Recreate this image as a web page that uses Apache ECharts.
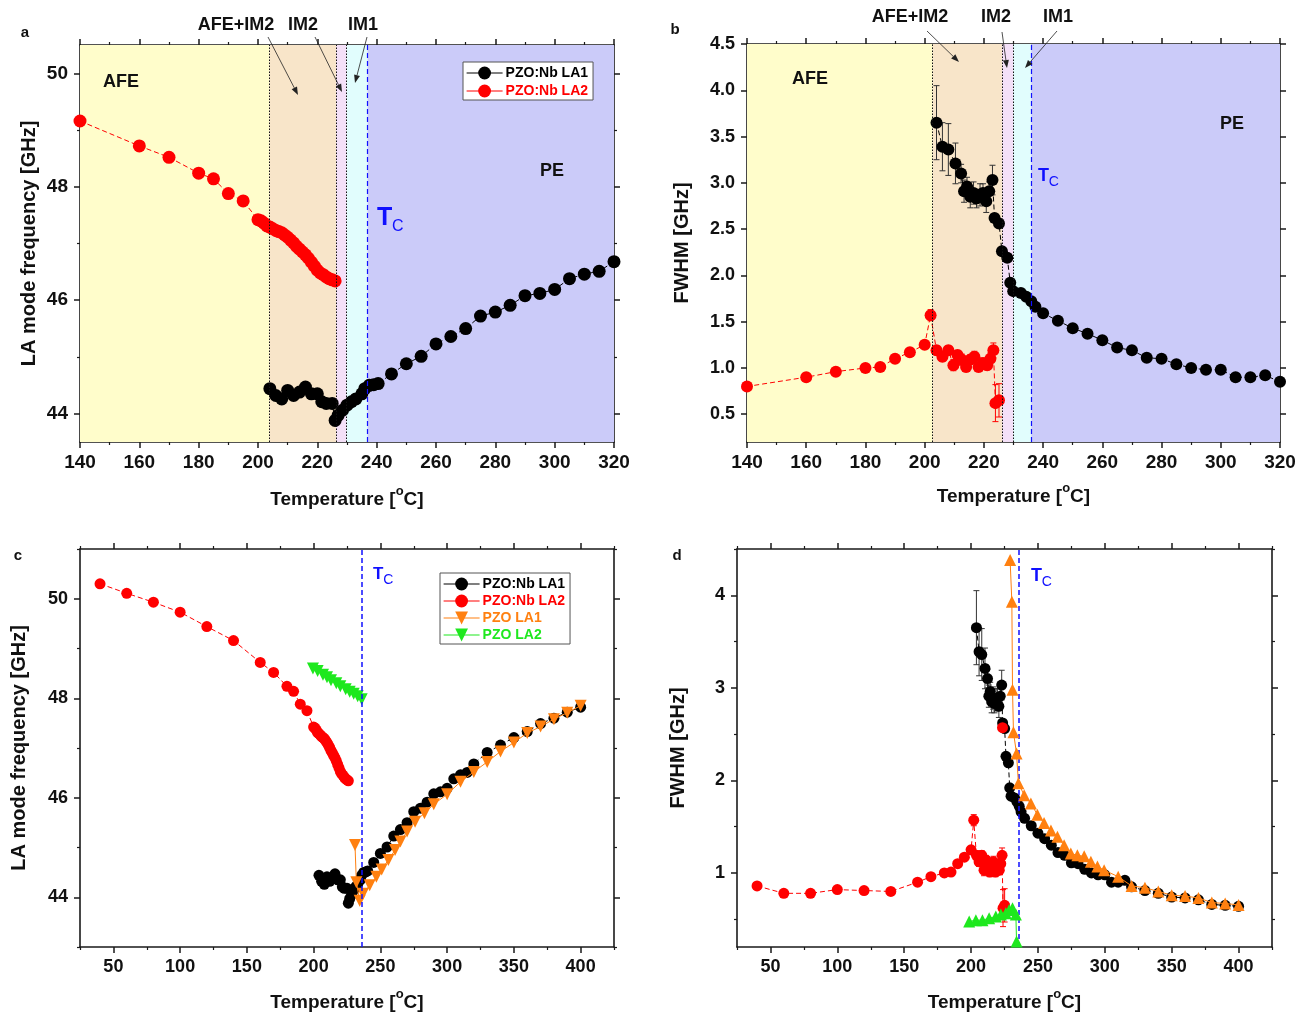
<!DOCTYPE html>
<html>
<head>
<meta charset="utf-8">
<script src="https://cdn.jsdelivr.net/npm/echarts@6.0.0/dist/echarts.min.js"></script>
<style>
  html, body { margin: 0; padding: 0; background: #fff; }
  #chart { width: 1311px; height: 1016px; }
</style>
</head>
<body>
<div id="chart"></div>
<script>
// LA mode frequency, PZO:Nb LA1 (black)
var la1FreqT = [204, 206, 208, 210, 212, 214, 216, 218, 220, 221.5, 223, 225, 226, 227, 228.5, 230, 231.5, 233, 235, 236, 237.5, 239, 240.5,
  245, 250, 255, 260, 265, 270, 275, 280, 285, 290, 295, 300, 305, 310, 315, 320, 330, 340, 350, 360, 370, 380, 390, 400]
var la1Freq = [44.44, 44.32, 44.26, 44.41, 44.32, 44.38, 44.47, 44.35, 44.35, 44.21, 44.18, 44.18, 43.88, 43.97, 44.06, 44.15, 44.21, 44.26, 44.35, 44.44, 44.50, 44.51, 44.53,
  44.70, 44.88, 45.01, 45.23, 45.36, 45.50, 45.72, 45.79, 45.91, 46.08, 46.12, 46.19, 46.38, 46.46, 46.51, 46.68, 46.91, 47.06, 47.21, 47.33, 47.49, 47.60, 47.72, 47.82]

// LA mode frequency, PZO:Nb LA2 (red)
var la2FreqT = [40, 60, 80, 100, 120, 140, 160, 170, 180, 185, 190, 195, 200, 201, 202, 203, 204, 205, 206, 207, 208, 209, 210,
  211, 212, 213, 214, 215, 216, 217, 218, 219, 220, 221, 222, 223, 224, 225, 226]
var la2Freq = [50.30, 50.11, 49.93, 49.73, 49.44, 49.16, 48.72, 48.52, 48.24, 48.14, 47.88, 47.75, 47.42, 47.40, 47.36, 47.31, 47.29, 47.26, 47.23, 47.21, 47.19, 47.15, 47.11,
  47.06, 47.01, 46.95, 46.90, 46.85, 46.80, 46.74, 46.67, 46.60, 46.53, 46.48, 46.45, 46.41, 46.38, 46.36, 46.34]

// LA mode frequency, PZO LA1 (orange) and PZO LA2 (green)
var pzoLa1FreqT = [231, 232, 234.5, 237, 242, 247, 251, 256, 261, 265, 270, 276, 283, 290, 300, 310, 320, 330, 340, 350, 360, 370, 380, 390, 400]
var pzoLa1Freq = [45.05, 44.30, 43.93, 44.07, 44.24, 44.41, 44.56, 44.75, 44.95, 45.12, 45.32, 45.52, 45.69, 45.87, 46.07, 46.32, 46.52, 46.72, 46.93, 47.11, 47.30, 47.43, 47.58, 47.71, 47.85]
var pzoLa2FreqT = [199.5, 203, 207, 210, 213, 217, 220, 224, 227, 230, 233, 236]
var pzoLa2Freq = [48.60, 48.55, 48.47, 48.42, 48.36, 48.30, 48.24, 48.18, 48.13, 48.09, 48.04, 47.98]

// FWHM, PZO:Nb LA1 (black) with error
var la1FwhmT = [204, 206, 208, 210.4, 212.3, 213.3, 214.3, 215.4, 216.5, 217.5, 218.7, 219.7, 220.8, 221.8, 222.9,
  223.6, 225.1, 226.1, 227.9, 228.9, 229.9, 232.5, 234.3, 236, 237.4, 240,
  245, 250, 255, 260, 265, 270, 275, 280, 285, 290, 295, 300, 305, 310, 315, 320, 330, 340, 350, 360, 370, 380, 390, 400]
var la1Fwhm = [3.65, 3.39, 3.36, 3.21, 3.10, 2.91, 2.96, 2.85, 2.89, 2.83, 2.87, 2.89, 2.80, 2.91, 3.03,
  2.62, 2.56, 2.26, 2.19, 1.92, 1.83, 1.81, 1.77, 1.72, 1.66, 1.59,
  1.51, 1.43, 1.37, 1.30, 1.22, 1.19, 1.11, 1.10, 1.04, 1.00, 0.98, 0.98, 0.90, 0.90, 0.92, 0.85, 0.81, 0.78, 0.74, 0.73, 0.71, 0.66, 0.65, 0.64]
var la1FwhmErr = [0.40, 0.26, 0.28, 0.22, 0.10, 0.12, 0.10, 0.12, 0.12, 0.10, 0.12, 0.10, 0.12, 0.10, 0.16,
  0, 0, 0, 0, 0, 0, 0, 0, 0, 0, 0,
  0, 0, 0, 0, 0, 0, 0, 0, 0, 0, 0, 0, 0, 0, 0, 0, 0, 0, 0, 0, 0, 0, 0, 0]

// FWHM, PZO:Nb LA2 (red) with error
var la2FwhmT = [40, 60, 80, 100, 120, 140, 160, 170, 180, 185, 190, 195, 200,
  202, 204, 206, 208, 209.7, 211.1, 212.5, 214, 215.4, 216.8, 218.2, 219.7, 221.1, 222.2, 223.2, 223.9, 225.1]
var la2Fwhm = [0.86, 0.78, 0.78, 0.82, 0.81, 0.80, 0.90, 0.96, 1.00, 1.01, 1.10, 1.17, 1.25,
  1.57, 1.19, 1.12, 1.19, 1.03, 1.14, 1.09, 1.01, 1.09, 1.12, 1.01, 1.05, 1.03, 1.10, 1.19, 0.62, 0.65]
var la2FwhmErr = [0, 0, 0, 0, 0, 0, 0, 0, 0, 0, 0, 0, 0,
  0.06, 0.05, 0.05, 0.05, 0.06, 0.05, 0.06, 0.05, 0.05, 0.06, 0.05, 0.06, 0.05, 0.06, 0.08, 0.20, 0.18]
// extra red point only seen in panel d
var la2FwhmExtraT = [223.5]
var la2FwhmExtra = [2.57]

// FWHM, PZO LA1 (orange) and PZO LA2 (green)
var pzoLa1FwhmT = [229.2, 230.5, 231, 231.7, 234, 235.4, 239.7, 244.7, 249.6, 254.6, 259.7, 264.6, 269.6, 274.6, 279.5, 284.6, 289.6, 294.5, 299.5,
  310, 320, 330, 340, 350, 360, 370, 380, 390, 400]
var pzoLa1Fwhm = [4.38, 3.93, 2.98, 2.52, 2.29, 1.97, 1.84, 1.75, 1.63, 1.54, 1.46, 1.39, 1.30, 1.21, 1.19, 1.18, 1.12, 1.07, 1.03,
  0.96, 0.86, 0.84, 0.80, 0.76, 0.75, 0.73, 0.68, 0.67, 0.655]
var pzoLa2FwhmT = [198.6, 203.6, 208.5, 213.5, 218.5, 222.3, 226, 228.5, 231, 233.5, 234]
var pzoLa2Fwhm = [0.475, 0.49, 0.49, 0.51, 0.53, 0.55, 0.565, 0.60, 0.62, 0.55, 0.26]

// phase region edges (panels a, b) and Tc
var edgesA = [140, 203.8, 226.3, 229.9, 236.9, 320]
var edgesB = [140, 202.7, 226.1, 229.9, 236.0, 320]
var regionColors = ['#FFFDCB', '#F8E5C9', '#F4E0F8', '#E1FDFD', '#CBCBF9']
var tcLine = 236

// tick values
var tempTicksAB = [140, 160, 180, 200, 220, 240, 260, 280, 300, 320]
var tempMinorAB = [150, 170, 190, 210, 230, 250, 270, 290, 310]
var tempTicksCD = [50, 100, 150, 200, 250, 300, 350, 400]
var tempMinorCD = [25, 75, 125, 175, 225, 275, 325, 375, 425]
var freqTicks = [44, 46, 48, 50]
var freqMinorA = [45, 47, 49]
var freqMinorC = [43, 45, 47, 49, 51]
var fwhmTicksB = [0.5, 1.0, 1.5, 2.0, 2.5, 3.0, 3.5, 4.0, 4.5]
var fwhmTicksD = [1, 2, 3, 4]
var fwhmMinorD = [0.5, 1.5, 2.5, 3.5, 4.5]

var FONT = 'Liberation Sans, Arial, sans-serif'
var BLACK = '#000000'
var RED = '#FF0000'
var ORANGE = '#FF8010'
var GREEN = '#1EE81E'
var BLUE = '#1010FF'

function zip (xs, ys) {
  return xs.map(function (x, i) { return [x, ys[i]] })
}

var TEMP_NAME = '{n|Temperature [}{sup|o}{n|C]}'

// four axes per side: main, main minor ticks, mirror, mirror minor ticks
function makeAxes (dim, g, c) {
  var pos = dim === 'x' ? ['bottom', 'top'] : ['left', 'right']
  var lineCol = '#1a1a1a'
  function base (p) {
    return {
      type: 'value', gridIndex: g, position: p, min: c.min, max: c.max,
      splitLine: { show: false },
      axisLine: { show: false, onZero: false },
      axisLabel: { show: false },
      axisTick: { show: false }
    }
  }
  var axes = []
  pos.forEach(function (p, k) {
    var major = base(p)
    major.axisLine = { show: true, onZero: false, lineStyle: { color: lineCol, width: 1.6 } }
    major.axisTick = { show: true, inside: false, length: 6, customValues: c.major, lineStyle: { color: lineCol, width: 1.5 } }
    if (k === 0) {
      major.axisLabel = {
        show: true, customValues: c.labels || c.major, formatter: c.fmt, margin: c.margin,
        fontSize: c.labelSize, fontWeight: 'bold', color: '#111', fontFamily: FONT
      }
      major.name = c.name
      major.nameLocation = 'middle'
      major.nameGap = c.nameGap
      major.nameTextStyle = {
        fontSize: c.nameSize, fontWeight: 'bold', color: '#111', fontFamily: FONT,
        rich: {
          n: { fontSize: c.nameSize, fontWeight: 'bold', color: '#111', fontFamily: FONT, lineHeight: 30 },
          sup: { fontSize: 13, fontWeight: 'bold', color: '#111', fontFamily: FONT, lineHeight: 13, verticalAlign: 'top' }
        }
      }
    }
    axes.push(major)
    var minor = base(p)
    if (c.minor && c.minor.length) {
      minor.axisTick = { show: true, inside: false, length: 3, customValues: c.minor, lineStyle: { color: lineCol, width: 1.2 } }
    }
    axes.push(minor)
  })
  return axes
}

var panels = [
  {
    grid: { left: 80, top: 45, width: 534, height: 397 },
    x: { min: 140, max: 320, major: tempTicksAB, minor: tempMinorAB, margin: 11, labelSize: 19, name: TEMP_NAME, nameSize: 19, nameGap: 43 },
    y: { min: 43.5, max: 50.5, major: freqTicks, minor: freqMinorA, margin: 12, labelSize: 19, name: 'LA mode frequency [GHz]', nameGap: 41, nameSize: 20 }
  },
  {
    grid: { left: 747, top: 44, width: 533, height: 398 },
    x: { min: 140, max: 320, major: tempTicksAB, minor: tempMinorAB, margin: 11, labelSize: 19, name: TEMP_NAME, nameSize: 19, nameGap: 40 },
    y: { min: 0.2, max: 4.5, major: fwhmTicksB, minor: [], margin: 12, labelSize: 18, name: 'FWHM [GHz]', nameGap: 55, nameSize: 20,
      fmt: function (v) { return v.toFixed(1) } }
  },
  {
    grid: { left: 80, top: 549, width: 534, height: 398 },
    x: { min: 25, max: 425, major: tempTicksCD, minor: tempMinorCD, margin: 11, labelSize: 18, name: TEMP_NAME, nameSize: 19, nameGap: 41 },
    y: { min: 43, max: 51, major: freqTicks, minor: freqMinorC, margin: 12, labelSize: 18, name: 'LA mode frequency [GHz]', nameGap: 51, nameSize: 20 }
  },
  {
    grid: { left: 737, top: 549, width: 535, height: 398 },
    x: { min: 25, max: 425, major: tempTicksCD, minor: tempMinorCD, margin: 11, labelSize: 18, name: TEMP_NAME, nameSize: 19, nameGap: 41 },
    y: { min: 0.2, max: 4.5, major: fwhmTicksD, minor: fwhmMinorD, margin: 12, labelSize: 18, name: 'FWHM [GHz]', nameGap: 49, nameSize: 20 }
  }
]

var grids = []
var xAxes = []
var yAxes = []
panels.forEach(function (p, g) {
  grids.push(Object.assign({ outerBoundsMode: 'none', containLabel: false }, p.grid))
  xAxes = xAxes.concat(makeAxes('x', g, p.x))
  yAxes = yAxes.concat(makeAxes('y', g, p.y))
})

function lineSeries (g, name, xs, ys, o) {
  return {
    type: 'line', name: name, xAxisIndex: 4 * g, yAxisIndex: 4 * g,
    data: zip(xs, ys),
    symbol: o.symbol || 'circle', symbolSize: o.size, symbolRotate: o.rotate || 0,
    showSymbol: true, showAllSymbol: true,
    itemStyle: { color: o.color },
    lineStyle: { color: o.color, width: 1, type: o.dash ? [5, 3] : 'solid' },
    z: o.z || 3, clip: true
  }
}

function errorSeries (g, xs, ys, es, color) {
  return {
    type: 'custom', xAxisIndex: 4 * g, yAxisIndex: 4 * g, silent: true, z: 2, clip: true,
    data: xs.map(function (x, i) { return [x, ys[i], es[i]] }),
    encode: { x: 0, y: 1 },
    renderItem: function (params, api) {
      var x = api.value(0); var y = api.value(1); var e = api.value(2)
      if (!e) return null
      var top = api.coord([x, y + e])
      var bot = api.coord([x, y - e])
      var st = { stroke: color, lineWidth: 1 }
      return {
        type: 'group',
        children: [
          { type: 'line', shape: { x1: top[0], y1: top[1], x2: bot[0], y2: bot[1] }, style: st },
          { type: 'line', shape: { x1: top[0] - 3, y1: top[1], x2: top[0] + 3, y2: top[1] }, style: st },
          { type: 'line', shape: { x1: bot[0] - 3, y1: bot[1], x2: bot[0] + 3, y2: bot[1] }, style: st }
        ]
      }
    }
  }
}

// backgrounds and vertical guide lines
function regionSeries (g, edges) {
  var areas = []
  for (var i = 0; i < edges.length - 1; i++) {
    areas.push([{ xAxis: edges[i], itemStyle: { color: regionColors[i] } }, { xAxis: edges[i + 1] }])
  }
  var dotted = { color: '#111', width: 1, type: [1.5, 1.5] }
  return {
    type: 'line', xAxisIndex: 4 * g, yAxisIndex: 4 * g, data: [], z: 0, silent: true,
    markArea: { silent: true, data: areas },
    markLine: {
      silent: true, symbol: ['none', 'none'], label: { show: false },
      data: [
        { xAxis: edges[1], lineStyle: dotted },
        { xAxis: edges[2], lineStyle: dotted },
        { xAxis: edges[3], lineStyle: dotted },
        { xAxis: edges[4], lineStyle: { color: BLUE, width: 1.2, type: [5, 3] } }
      ]
    }
  }
}

function tcSeries (g) {
  return {
    type: 'line', xAxisIndex: 4 * g, yAxisIndex: 4 * g, data: [], z: 1, silent: true,
    markLine: {
      silent: true, symbol: ['none', 'none'], label: { show: false },
      data: [{ xAxis: tcLine, lineStyle: { color: BLUE, width: 1.5, type: [5, 3] } }]
    }
  }
}

var series = [
  // a
  regionSeries(0, edgesA),
  lineSeries(0, 'PZO:Nb LA1', la1FreqT, la1Freq, { color: BLACK, size: 13, dash: true }),
  lineSeries(0, 'PZO:Nb LA2', la2FreqT, la2Freq, { color: RED, size: 13, dash: true }),
  // b
  regionSeries(1, edgesB),
  errorSeries(1, la2FwhmT, la2Fwhm, la2FwhmErr, RED),
  lineSeries(1, 'PZO:Nb LA2', la2FwhmT, la2Fwhm, { color: RED, size: 12, dash: true }),
  errorSeries(1, la1FwhmT, la1Fwhm, la1FwhmErr, '#333'),
  lineSeries(1, 'PZO:Nb LA1', la1FwhmT, la1Fwhm, { color: BLACK, size: 12, dash: true, z: 4 }),
  // c
  tcSeries(2),
  lineSeries(2, 'PZO:Nb LA1', la1FreqT, la1Freq, { color: BLACK, size: 11, dash: true }),
  lineSeries(2, 'PZO:Nb LA2', la2FreqT, la2Freq, { color: RED, size: 11, dash: true }),
  lineSeries(2, 'PZO LA1', pzoLa1FreqT, pzoLa1Freq, { color: ORANGE, size: 12, symbol: 'triangle', rotate: 180, z: 4 }),
  lineSeries(2, 'PZO LA2', pzoLa2FreqT, pzoLa2Freq, { color: GREEN, size: 12, symbol: 'triangle', rotate: 180, z: 4 }),
  // d
  tcSeries(3),
  errorSeries(3, la1FwhmT, la1Fwhm, la1FwhmErr, '#333'),
  lineSeries(3, 'PZO:Nb LA1', la1FwhmT, la1Fwhm, { color: BLACK, size: 11, dash: true }),
  errorSeries(3, la2FwhmT, la2Fwhm, la2FwhmErr, RED),
  lineSeries(3, 'PZO:Nb LA2', la2FwhmT, la2Fwhm, { color: RED, size: 11, dash: true, z: 4 }),
  lineSeries(3, 'PZO:Nb LA2', la2FwhmExtraT, la2FwhmExtra, { color: RED, size: 11, z: 4 }),
  lineSeries(3, 'PZO LA1', pzoLa1FwhmT, pzoLa1Fwhm, { color: ORANGE, size: 12, symbol: 'triangle', z: 5 }),
  lineSeries(3, 'PZO LA2', pzoLa2FwhmT, pzoLa2Fwhm, { color: GREEN, size: 12, symbol: 'triangle', z: 5 })
]

function legendBox (left, top, gap, items) {
  return {
    left: left, top: top, orient: 'vertical', selectedMode: false, z: 20,
    backgroundColor: '#fff', borderColor: '#555', borderWidth: 1, borderRadius: 0,
    padding: [4, 5, 2, 3], itemGap: gap, itemWidth: 36, itemHeight: 16,
    lineStyle: { type: 'solid', width: 1.2 },
    textStyle: { fontFamily: FONT, fontWeight: 'bold', fontSize: 14, padding: [0, 0, 0, -2] },
    data: items.map(function (it) { return { name: it[0], textStyle: { color: it[1] } } })
  }
}

// annotation helpers
function label (x, y, text, size) {
  return {
    type: 'text', x: x, y: y, z: 100,
    style: { text: text, fill: '#111', font: 'bold ' + size + 'px ' + FONT, textAlign: 'center', textVerticalAlign: 'middle' }
  }
}

function tcLabel (x, y, tSize, cSize) {
  return [
    { type: 'text', x: x, y: y, z: 100,
      style: { text: 'T', fill: BLUE, font: 'bold ' + tSize + 'px ' + FONT, textAlign: 'left', textVerticalAlign: 'middle' } },
    { type: 'text', x: x + tSize * 0.6, y: y + tSize * 0.35, z: 100,
      style: { text: 'C', fill: BLUE, font: cSize + 'px ' + FONT, textAlign: 'left', textVerticalAlign: 'middle' } }
  ]
}

function arrow (x1, y1, x2, y2) {
  var ang = Math.atan2(y2 - y1, x2 - x1)
  var L = 8; var W = 3
  var bx = x2 - L * Math.cos(ang); var by = y2 - L * Math.sin(ang)
  var px = -Math.sin(ang) * W; var py = Math.cos(ang) * W
  return [
    { type: 'line', z: 100, shape: { x1: x1, y1: y1, x2: bx, y2: by }, style: { stroke: '#222', lineWidth: 0.8 } },
    { type: 'polygon', z: 100, shape: { points: [[x2, y2], [bx + px, by + py], [bx - px, by - py]] }, style: { fill: '#222' } }
  ]
}

var graphics = [
  label(25, 33, 'a', 15), label(675, 30, 'b', 15), label(18, 556, 'c', 15), label(677, 556, 'd', 15),
  label(236, 25, 'AFE+IM2', 18), label(303, 25, 'IM2', 18), label(363, 25, 'IM1', 18),
  label(910, 17, 'AFE+IM2', 18), label(996, 17, 'IM2', 18), label(1058, 17, 'IM1', 18),
  label(121, 82, 'AFE', 18), label(552, 171, 'PE', 18),
  label(810, 79, 'AFE', 18), label(1232, 124, 'PE', 18)
].concat(
  tcLabel(377, 218, 25, 16), tcLabel(1038, 176, 18, 14), tcLabel(373, 574, 17, 14), tcLabel(1031, 576, 18, 14),
  arrow(268, 37, 298, 95), arrow(315, 37, 342, 92), arrow(367, 37, 355, 83),
  arrow(927, 31, 959, 62), arrow(1002, 32, 1007, 68), arrow(1057, 31, 1025, 68)
)

var chart = echarts.init(document.getElementById('chart'))
chart.setOption({
  animation: false,
  backgroundColor: '#fff',
  grid: grids,
  xAxis: xAxes,
  yAxis: yAxes,
  legend: [
    legendBox(463, 62, 4, [['PZO:Nb LA1', BLACK], ['PZO:Nb LA2', RED]]),
    legendBox(440, 573, 3, [['PZO:Nb LA1', BLACK], ['PZO:Nb LA2', RED], ['PZO LA1', ORANGE], ['PZO LA2', GREEN]])
  ],
  graphic: graphics,
  series: series
})
</script>
</body>
</html>
